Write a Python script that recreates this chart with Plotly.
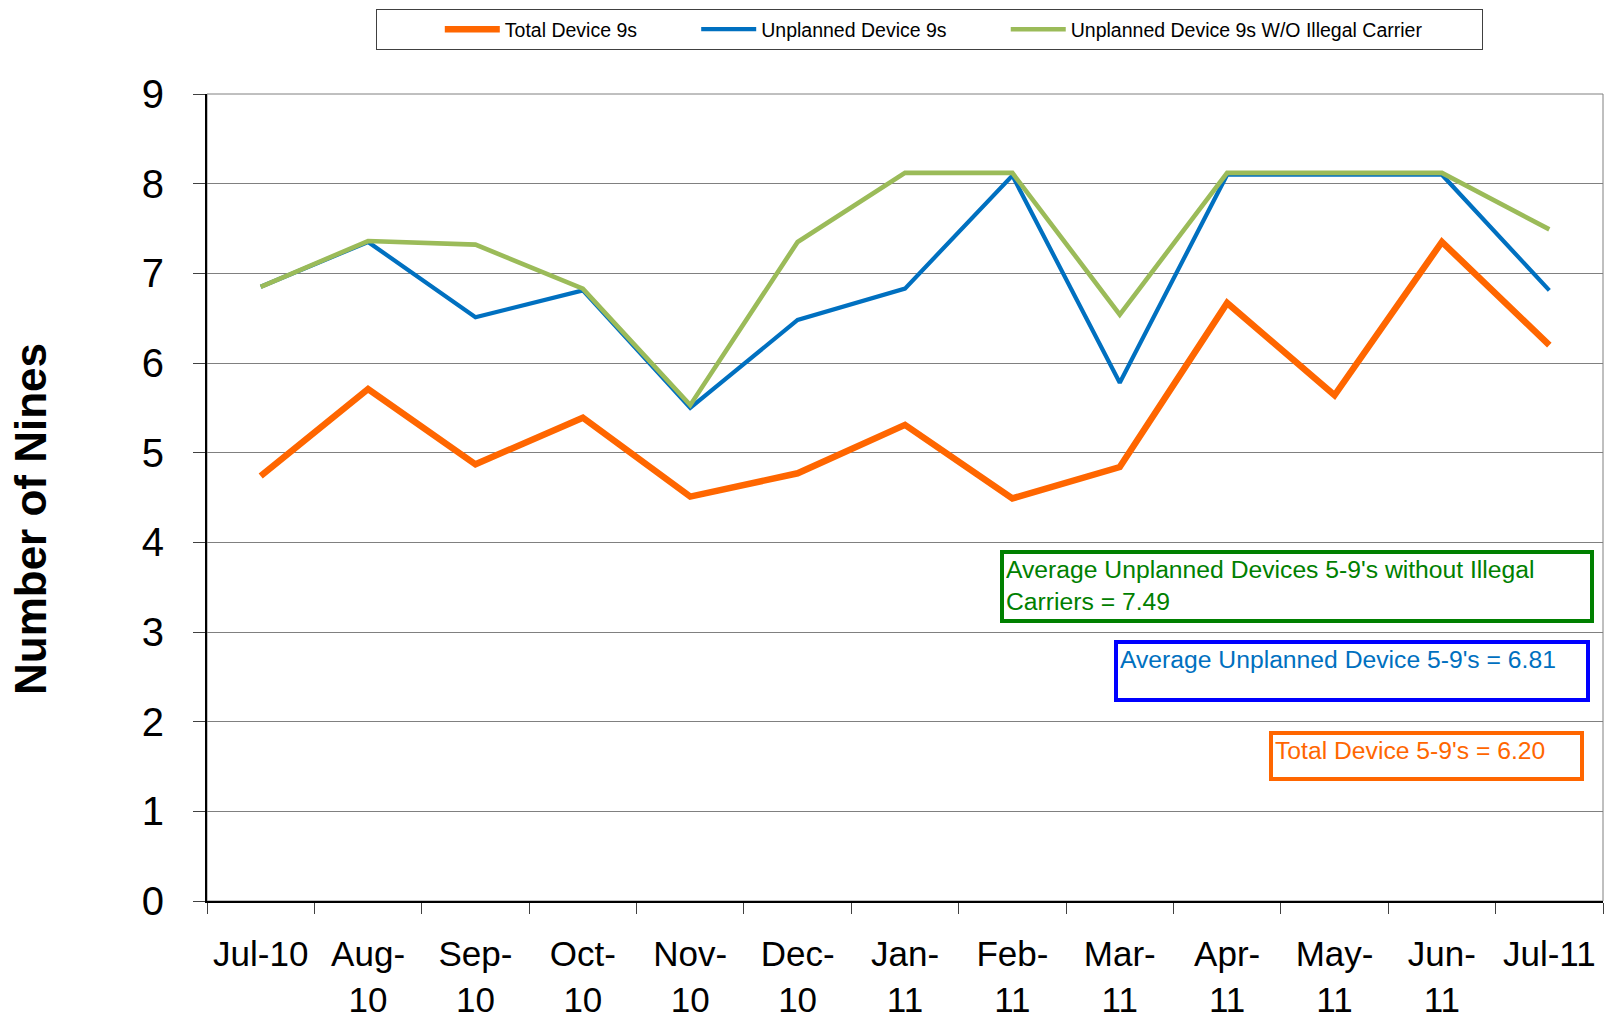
import plotly.graph_objects as go

# ---- data ----
categories = ["Jul-10", "Aug-10", "Sep-10", "Oct-10", "Nov-10", "Dec-10", "Jan-11",
              "Feb-11", "Mar-11", "Apr-11", "May-11", "Jun-11", "Jul-11"]
tick_labels = ["Jul-10", "Aug-<br>10", "Sep-<br>10", "Oct-<br>10", "Nov-<br>10", "Dec-<br>10",
               "Jan-<br>11", "Feb-<br>11", "Mar-<br>11", "Apr-<br>11", "May-<br>11", "Jun-<br>11", "Jul-11"]
total_device = [4.74, 5.71, 4.87, 5.39, 4.51, 4.77, 5.31, 4.49, 4.84, 6.67, 5.64, 7.35, 6.20]
unplanned_device = [6.85, 7.35, 6.51, 6.81, 5.50, 6.48, 6.83, 8.09, 5.78, 8.10, 8.10, 8.10, 6.81]
unplanned_wo_illegal = [6.85, 7.36, 7.32, 6.83, 5.53, 7.35, 8.12, 8.12, 6.54, 8.12, 8.12, 8.12, 7.49]
y_ticks = [0, 1, 2, 3, 4, 5, 6, 7, 8, 9]

ORANGE = "#FF6600"
BLUE = "#0070C0"
GREEN = "#9BBB59"
FONT = "Liberation Sans, Arial, sans-serif"

W, H = 1605, 1021
L, R, T, B = 207, 2, 94, 120
PW, PH = W - L - R, H - T - B


def px_x(x):
    return (x - L) / PW


def px_y(y):
    return (H - B - y) / PH


NB = "\u00a0"
fig = go.Figure()
fig.add_trace(go.Scatter(x=categories, y=total_device, mode="lines",
                         name="Total Device 9s" + NB * 10,
                         line=dict(color=ORANGE, width=6.5)))
fig.add_trace(go.Scatter(x=categories, y=unplanned_device, mode="lines",
                         name="Unplanned Device 9s" + NB * 10,
                         line=dict(color=BLUE, width=4.2)))
fig.add_trace(go.Scatter(x=categories, y=unplanned_wo_illegal, mode="lines",
                         name="Unplanned Device 9s W/O Illegal Carrier" + NB * 10,
                         line=dict(color=GREEN, width=4.6)))

annotations = [
    dict(text="Average Unplanned Devices 5-9's without Illegal<br>Carriers = 7.49",
         x0=1000, y0=550, w=594, h=73, color="#008000", border="#008000"),
    dict(text="Average Unplanned Device 5-9's = 6.81",
         x0=1114, y0=640, w=476, h=62, color=BLUE, border="#0000FF"),
    dict(text="Total Device 5-9's = 6.20",
         x0=1269, y0=731, w=315, h=50, color=ORANGE, border=ORANGE),
]
bw, bp = 4, 2
for a in annotations:
    fig.add_annotation(
        text=a["text"], xref="paper", yref="paper",
        x=px_x(a["x0"]), y=px_y(a["y0"]), xanchor="left", yanchor="top",
        width=a["w"] - 2 * (bw + bp), height=a["h"] - 2 * (bw + bp),
        align="left", valign="top", showarrow=False,
        font=dict(family=FONT, size=24.7, color=a["color"]),
        bordercolor=a["border"], borderwidth=bw, borderpad=bp, bgcolor="white",
    )

# y-axis title (placed as rotated text, slightly below centre as in the reference)
fig.add_annotation(text="<b>Number of Nines</b>", xref="paper", yref="paper",
                   x=px_x(30), y=px_y(519), xanchor="center", yanchor="middle",
                   textangle=-90, showarrow=False,
                   font=dict(family=FONT, size=44, color="black"))

# plot frame (top/right light border)
fig.add_shape(type="rect", xref="paper", yref="paper", x0=0, x1=1, y0=0, y1=1,
              line=dict(color="#808080", width=1), layer="below")

fig.update_layout(
    width=W, height=H,
    margin=dict(l=L, r=R, t=T, b=B, autoexpand=False),
    paper_bgcolor="white", plot_bgcolor="white",
    font=dict(family=FONT, color="black"),
    showlegend=True,
    legend=dict(orientation="h", x=px_x(376), y=px_y(9), xanchor="left", yanchor="top",
                bordercolor="#404040", borderwidth=1, bgcolor="white",
                font=dict(family=FONT, size=19.5, color="black"),
                itemwidth=55,
                title=dict(text=NB * 10, side="left", font=dict(size=19))),
    xaxis=dict(type="category", tickmode="array", tickvals=categories, ticktext=tick_labels,
               showgrid=False, showline=True, linecolor="black", linewidth=2,
               ticks="outside", tickson="boundaries", ticklen=11, tickcolor="#404040",
               tickangle=0, automargin=False, ticklabelstandoff=21,
               tickfont=dict(family=FONT, size=35, color="black"),
               range=[-0.5, 12.5], fixedrange=True),
    yaxis=dict(range=[0, 9], tickmode="array", tickvals=y_ticks,
               showgrid=True, gridcolor="#808080", gridwidth=1,
               showline=True, linecolor="black", linewidth=2,
               ticks="outside", ticklen=12, tickcolor="#404040",
               ticklabelstandoff=21, automargin=False,
               tickfont=dict(family=FONT, size=40, color="black"),
               zeroline=False),
)

fig.write_html("out.html",
               config={"displayModeBar": False},
               post_script="document.body.style.margin='0px';"
                           "document.body.style.overflow='hidden';")
